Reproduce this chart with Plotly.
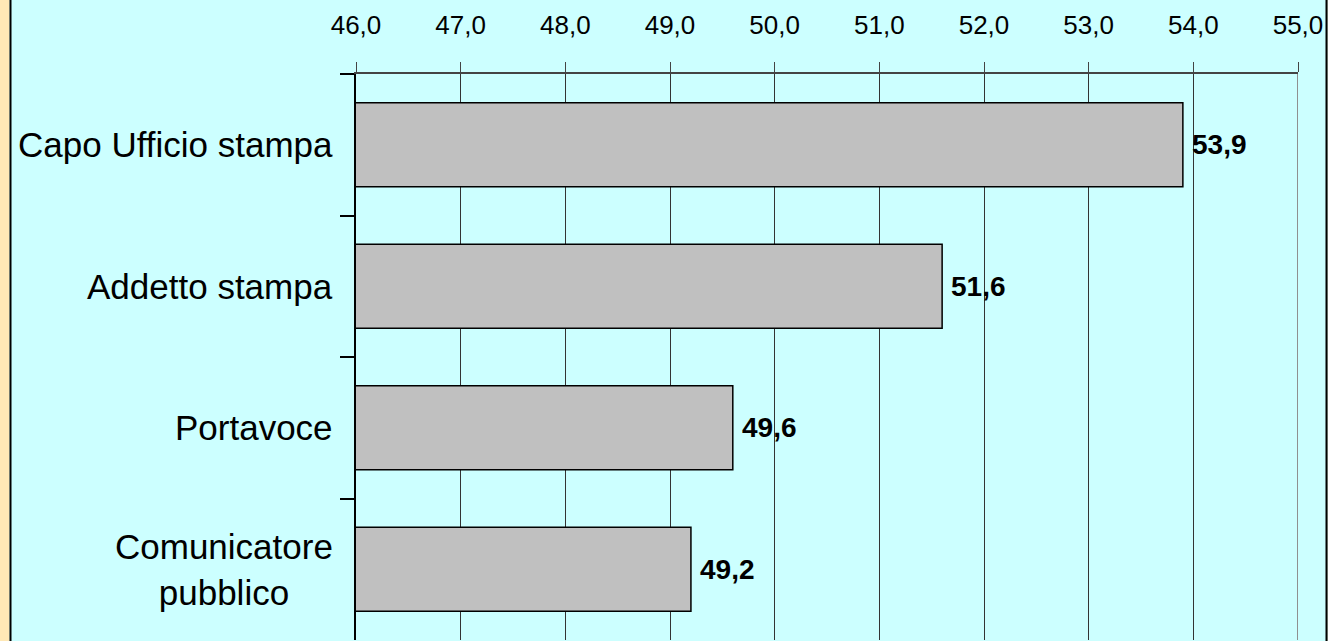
import plotly.graph_objects as go

categories = ["Capo Ufficio stampa", "Addetto stampa", "Portavoce", "Comunicatore<br>pubblico"]
values = [53.9, 51.6, 49.6, 49.2]
x_ticks = [46, 47, 48, 49, 50, 51, 52, 53, 54, 55]

FONT = "Liberation Sans, Arial, sans-serif"
W, H = 1328, 641
L, R, T, B = 356, 30, 74, 1
PW = W - L - R

def px(p):
    return (p - L) / PW

fig = go.Figure()
fig.add_trace(go.Bar(
    y=categories, x=values, orientation="h",
    marker=dict(color="#C0C0C0", line=dict(color="#000000", width=1.5)),
    hoverinfo="skip",
))

annotations = []
for c, v in zip(categories, values):
    annotations.append(dict(
        x=v, y=c, xref="x", yref="y", text="<b>%s</b>" % (("%.1f" % v).replace(".", ",")),
        showarrow=False, xanchor="left", xshift=7,
        font=dict(family=FONT, size=28, color="#000000"),
    ))
    annotations.append(dict(
        x=0, y=c, xref="paper", yref="y", text=c,
        showarrow=False, xanchor="right", align="center", xshift=-21,
        font=dict(family=FONT, size=35, color="#000000"),
    ))

shapes = [
    dict(type="rect", xref="paper", yref="paper", x0=px(-2), x1=px(9.5), y0=-0.2, y1=1.3,
         fillcolor="#FFE8B6", line=dict(width=0), layer="below"),
    dict(type="line", xref="paper", yref="paper", x0=px(10.5), x1=px(10.5), y0=-0.2, y1=1.3,
         line=dict(color="#000000", width=2)),
    dict(type="rect", xref="paper", yref="paper", x0=px(1327.5), x1=px(1332), y0=-0.2, y1=1.3,
         fillcolor="#BBAA88", line=dict(width=0), layer="below"),
    dict(type="line", xref="paper", yref="paper", x0=px(1326.5), x1=px(1326.5), y0=-0.2, y1=1.3,
         line=dict(color="#000000", width=2)),
    dict(type="line", xref="x", yref="paper", x0=55, x1=55, y0=0, y1=1,
         line=dict(color="#909090", width=2)),
]

fig.update_layout(
    width=W, height=H,
    margin=dict(l=L, r=R, t=T, b=B, pad=0),
    paper_bgcolor="#CCFFFF",
    plot_bgcolor="#CCFFFF",
    separators=",.",
    bargap=0.406,
    showlegend=False,
    annotations=annotations,
    shapes=shapes,
    font=dict(family=FONT, color="#000000"),
    xaxis=dict(
        side="top", range=[46, 55], tickvals=x_ticks, tickformat=".1f",
        showgrid=True, gridcolor="#333333", gridwidth=1,
        showline=True, linecolor="#444444", linewidth=2,
        ticks="outside", ticklen=10, tickcolor="#444444", tickwidth=1,
        tickfont=dict(family=FONT, size=26, color="#000000"),
        ticklabelstandoff=18,
        zeroline=False, fixedrange=True,
    ),
    yaxis=dict(
        type="category", categoryorder="array", categoryarray=categories,
        autorange="reversed", tickson="boundaries",
        ticks="outside", ticklen=14, tickcolor="#000000", tickwidth=1.5,
        showticklabels=False, showgrid=False,
        showline=True, linecolor="#000000", linewidth=2,
        zeroline=False, fixedrange=True,
    ),
)

fig.write_html(
    "out.html",
    config={"displayModeBar": False},
    post_script="document.body.style.margin='0';document.body.style.overflow='hidden';",
)
